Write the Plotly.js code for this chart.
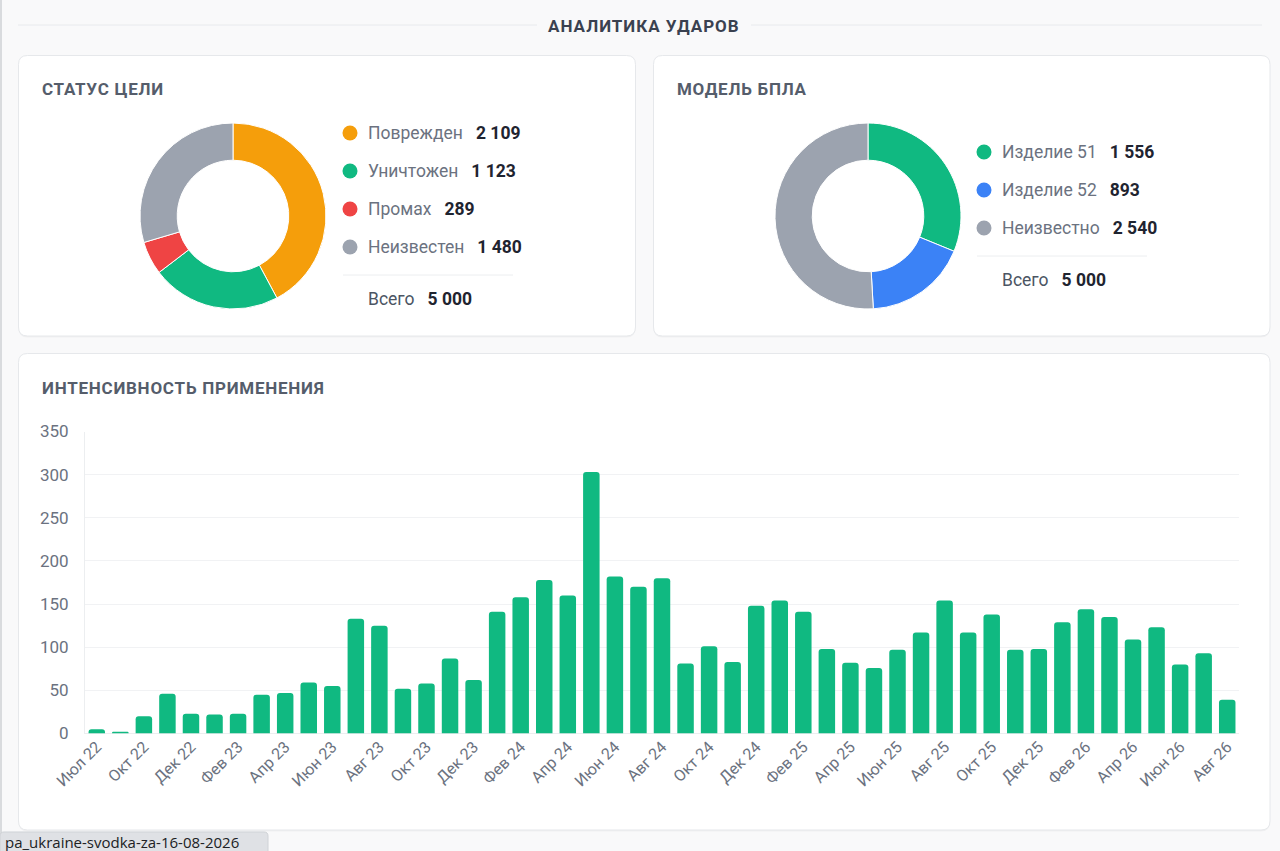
<!DOCTYPE html>
<html>
<head>
<meta charset="utf-8">
<script src="https://cdn.plot.ly/plotly-3.0.1.min.js"></script>
<style>
html,body{margin:0;padding:0;background:#f9f9fa;}
#chart{width:1280px;height:851px;}
#chart g.annotation[data-index="0"] text{letter-spacing:1px;}
#chart g.annotation[data-index="1"] text,
#chart g.annotation[data-index="2"] text,
#chart g.annotation[data-index="3"] text{letter-spacing:0.75px;}
</style>
</head>
<body>
<div id="chart"></div>
<script>
// ---- data ----
const pageTitle = "АНАЛИТИКА УДАРОВ";

const statusTitle = "СТАТУС ЦЕЛИ";
const statusLabels = ["Поврежден", "Уничтожен", "Промах", "Неизвестен"];
const statusValues = [2109, 1123, 289, 1480];
const statusColors = ["#f59e0b", "#10b981", "#ef4444", "#9ca3af"];
const statusTotal = 5000;

const modelTitle = "МОДЕЛЬ БПЛА";
const modelLabels = ["Изделие 51", "Изделие 52", "Неизвестно"];
const modelValues = [1556, 893, 2540];
const modelColors = ["#10b981", "#3b82f6", "#9ca3af"];
const modelTotal = 5000;

const totalLabel = "Всего";

const intensityTitle = "ИНТЕНСИВНОСТЬ ПРИМЕНЕНИЯ";
const months = [
  "Июл 22","Сен 22","Окт 22","Ноя 22","Дек 22","Янв 23","Фев 23","Мар 23","Апр 23","Май 23",
  "Июн 23","Июл 23","Авг 23","Сен 23","Окт 23","Ноя 23","Дек 23","Янв 24","Фев 24","Мар 24",
  "Апр 24","Май 24","Июн 24","Июл 24","Авг 24","Сен 24","Окт 24","Ноя 24","Дек 24","Янв 25",
  "Фев 25","Мар 25","Апр 25","Май 25","Июн 25","Июл 25","Авг 25","Сен 25","Окт 25","Ноя 25",
  "Дек 25","Янв 26","Фев 26","Мар 26","Апр 26","Май 26","Июн 26","Июл 26","Авг 26"
];
const monthlyStrikes = [
  5, 2, 20, 46, 23, 22, 23, 45, 47, 59,
  55, 133, 125, 52, 58, 87, 62, 141, 158, 178,
  160, 303, 182, 170, 180, 81, 101, 83, 148, 154,
  141, 98, 82, 76, 97, 117, 154, 117, 138, 97,
  98, 129, 144, 135, 109, 123, 80, 93, 39
];
const yTicks = [0, 50, 100, 150, 200, 250, 300, 350];
const footerText = "pa_ukraine-svodka-za-16-08-2026";

// ---- helpers ----
const W = 1280, H = 851;
const px = x => x / W;
const py = y => 1 - y / H;
const FONT = "Roboto, 'Liberation Sans', sans-serif";
const TITLE_LS = 0.75;
const fmt = n => String(n).replace(/\B(?=(\d{3})+(?!\d))/g, "\u00a0");

function roundRect(x0, y0, x1, y1, r) {
  const X = v => px(v).toFixed(5), Y = v => py(v).toFixed(5);
  return `M ${X(x0 + r)},${Y(y0)} L ${X(x1 - r)},${Y(y0)} Q ${X(x1)},${Y(y0)} ${X(x1)},${Y(y0 + r)} ` +
         `L ${X(x1)},${Y(y1 - r)} Q ${X(x1)},${Y(y1)} ${X(x1 - r)},${Y(y1)} ` +
         `L ${X(x0 + r)},${Y(y1)} Q ${X(x0)},${Y(y1)} ${X(x0)},${Y(y1 - r)} ` +
         `L ${X(x0)},${Y(y0 + r)} Q ${X(x0)},${Y(y0)} ${X(x0 + r)},${Y(y0)} Z`;
}

const shapes = [];
const annotations = [];

function card(x0, y0, x1, y1) {
  shapes.push({type: "path", xref: "paper", yref: "paper", layer: "below",
    path: roundRect(x0, y0 + 1.5, x1, y1 + 1.5, 9), fillcolor: "rgba(0,0,0,0.035)", line: {width: 0}});
  shapes.push({type: "path", xref: "paper", yref: "paper", layer: "below",
    path: roundRect(x0, y0, x1, y1, 9), fillcolor: "#ffffff", line: {color: "#e6e8eb", width: 1}});
}
function hline(x0, x1, y, color) {
  shapes.push({type: "line", xref: "paper", yref: "paper", layer: "below",
    x0: px(x0), x1: px(x1), y0: py(y), y1: py(y), line: {color: color, width: 1}});
}
function text(t, x, y, size, color, opts) {
  const a = Object.assign({xref: "paper", yref: "paper", x: px(x), y: py(y), text: t,
    showarrow: false, xanchor: "left", yanchor: "middle",
    font: {family: FONT, size: size, color: color}}, opts || {});
  annotations.push(a);
  return annotations.length - 1;
}
// left-aligned title whose letter spacing is added by CSS after measurement
function spacedTitle(t, x, y) {
  return text("<b>" + t + "</b>", x + t.length * TITLE_LS / 2, y, 17, "#555d6b");
}
function legend(labels, values, colors, total, x, y0, step, lineY, totalY) {
  labels.forEach((l, i) => {
    const y = y0 + i * step;
    shapes.push({type: "circle", xref: "paper", yref: "paper", layer: "above",
      x0: px(x - 7.5), x1: px(x + 7.5), y0: py(y + 7.5), y1: py(y - 7.5),
      fillcolor: colors[i], line: {width: 0}});
    text(l + "\u00a0\u00a0 <span style=\"color:#1f2430\"><b>" + fmt(values[i]) + "</b></span>",
      x + 16, y, 17.5, "#6b7280");
  });
  hline(x - 7, x + 163, lineY, "#eceef0");
  text(totalLabel + "\u00a0\u00a0 <span style=\"color:#1f2430\"><b>" + fmt(total) + "</b></span>",
    x + 16, totalY, 17.5, "#4b5563");
}

// titles first (indices 0..3 get letter spacing via CSS)
text("<b>" + pageTitle + "</b>", 644, 26, 17, "#3a4150", {xanchor: "center"});
spacedTitle(statusTitle, 40, 89);
spacedTitle(modelTitle, 675, 89);
spacedTitle(intensityTitle, 40, 388);

// page background & header lines
shapes.push({type: "rect", xref: "paper", yref: "paper", layer: "below",
  x0: 0, x1: px(2), y0: 0, y1: 1, fillcolor: "#d9dbde", line: {width: 0}});
hline(18, 537, 25, "#e8eaed");
hline(751, 1262, 25, "#e8eaed");

// cards
card(18.5, 55.5, 635.5, 336);
card(653.5, 55.5, 1270, 336);
card(18.5, 353.5, 1270, 830);

legend(statusLabels, statusValues, statusColors, statusTotal, 350, 133, 38, 275, 299);
legend(modelLabels, modelValues, modelColors, modelTotal, 984, 152, 38, 256, 280);

// footer status bar
shapes.push({type: "path", xref: "paper", yref: "paper", layer: "above",
  path: roundRect(0, 832, 268, 858, 4), fillcolor: "#dfe1e5", line: {color: "#cfd2d6", width: 1}});
text(footerText, 3, 841.5, 15, "#202124", {font: {family: "'Open Sans', 'DejaVu Sans', sans-serif", size: 15, color: "#202124"}});

const traces = [
  {type: "pie", labels: statusLabels, values: statusValues, sort: false, direction: "clockwise",
   rotation: 0, hole: 0.6, textinfo: "none", hoverinfo: "label+value", showlegend: false,
   marker: {colors: statusColors, line: {color: "#ffffff", width: 1}},
   domain: {x: [px(140), px(326)], y: [py(309), py(123)]}},
  {type: "pie", labels: modelLabels, values: modelValues, sort: false, direction: "clockwise",
   rotation: 0, hole: 0.6, textinfo: "none", hoverinfo: "label+value", showlegend: false,
   marker: {colors: modelColors, line: {color: "#ffffff", width: 1}},
   domain: {x: [px(775), px(961)], y: [py(309), py(123)]}},
  {type: "bar", x: months, y: monthlyStrikes, marker: {color: "#10b981"},
   showlegend: false, hoverinfo: "x+y"}
];

const layout = {
  width: W, height: H, autosize: false,
  margin: {l: 0, r: 0, t: 0, b: 0, pad: 0},
  paper_bgcolor: "#f9f9fa", plot_bgcolor: "rgba(0,0,0,0)",
  font: {family: FONT},
  bargap: 0.3, barcornerradius: 3,
  xaxis: {domain: [px(85), px(1239)], type: "category", categoryorder: "array", categoryarray: months,
    tickmode: "array", tickvals: months.filter((m, i) => i % 2 === 0),
    tickangle: -45, tickfont: {family: FONT, size: 16, color: "#6b7280"},
    showgrid: false, zeroline: false, showline: false, ticks: "", ticklen: 0, fixedrange: true},
  yaxis: {domain: [py(733.5), py(431.5)], range: [0, 350], tickvals: yTicks,
    tickfont: {family: FONT, size: 17, color: "#6b7280"},
    showgrid: true, gridcolor: "#f1f2f4", gridwidth: 1, zeroline: true, zerolinecolor: "#eceef0",
    showline: true, linecolor: "#eceef0", ticks: "", ticklabelstandoff: 12, fixedrange: true},
  shapes: shapes,
  annotations: annotations
};

Plotly.newPlot("chart", traces, layout, {displayModeBar: false, staticPlot: true});
</script>
</body>
</html>
